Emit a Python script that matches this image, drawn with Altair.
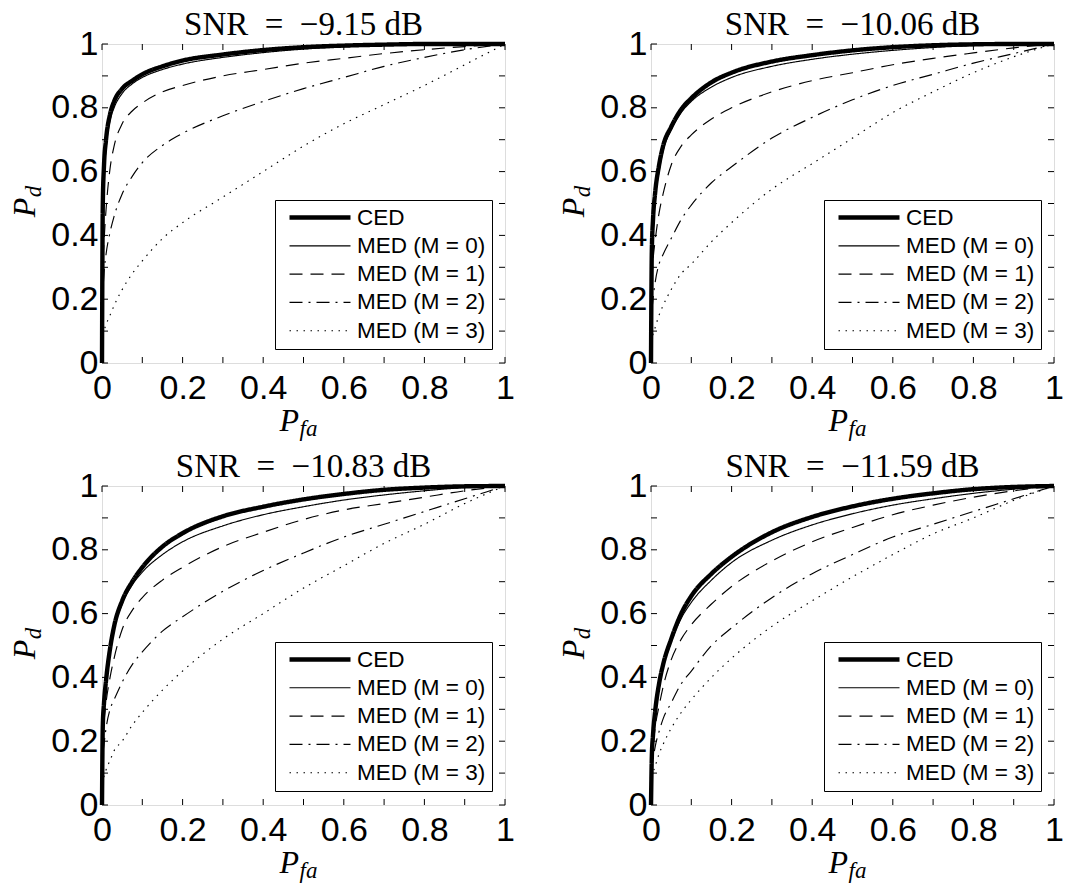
import altair as alt
import pandas as pd

# ---------------- data ----------------
PFA = [0, 0.002, 0.005, 0.01, 0.02, 0.03, 0.05, 0.075, 0.1, 0.15, 0.2,
       0.3, 0.4, 0.5, 0.6, 0.7, 0.8, 0.9, 1.0]

SERIES = ["CED", "MED (M = 0)", "MED (M = 1)", "MED (M = 2)", "MED (M = 3)"]
EN = "\u2002"
TITLES = ["SNR" + EN + "=" + EN + "\u22129.15 dB",
          "SNR" + EN + "=" + EN + "\u221210.06 dB",
          "SNR" + EN + "=" + EN + "\u221210.83 dB",
          "SNR" + EN + "=" + EN + "\u221211.59 dB"]

# SNR = -9.15 dB
A_CED = [0, 0.50, 0.62, 0.70, 0.78, 0.82, 0.86, 0.885, 0.905, 0.93, 0.948, 0.967, 0.981, 0.99, 0.995, 0.998, 1.0, 1.0, 1.0]
A_M0 = [0, 0.45, 0.58, 0.67, 0.76, 0.80, 0.845, 0.875, 0.895, 0.92, 0.937, 0.958, 0.973, 0.984, 0.991, 0.996, 0.999, 1.0, 1.0]
A_M1 = [0, 0.30, 0.38, 0.48, 0.61, 0.68, 0.75, 0.79, 0.815, 0.85, 0.87, 0.90, 0.92, 0.94, 0.955, 0.97, 0.982, 0.992, 1.0]
A_M2 = [0, 0.20, 0.28, 0.34, 0.41, 0.46, 0.53, 0.585, 0.628, 0.682, 0.72, 0.775, 0.82, 0.86, 0.895, 0.93, 0.958, 0.982, 1.0]
A_M3 = [0, 0.08, 0.10, 0.12, 0.15, 0.18, 0.23, 0.28, 0.32, 0.39, 0.44, 0.52, 0.60, 0.68, 0.75, 0.81, 0.87, 0.935, 1.0]

# SNR = -10.06 dB
B_CED = [0, 0.35, 0.45, 0.53, 0.62, 0.68, 0.74, 0.795, 0.83, 0.88, 0.91, 0.945, 0.965, 0.98, 0.99, 0.996, 0.999, 1.0, 1.0]
B_M0 = [0, 0.33, 0.43, 0.51, 0.60, 0.665, 0.73, 0.785, 0.82, 0.865, 0.895, 0.93, 0.952, 0.968, 0.98, 0.989, 0.995, 0.999, 1.0]
B_M1 = [0, 0.25, 0.32, 0.38, 0.47, 0.53, 0.62, 0.68, 0.715, 0.765, 0.80, 0.85, 0.885, 0.91, 0.935, 0.955, 0.972, 0.988, 1.0]
B_M2 = [0, 0.15, 0.20, 0.25, 0.31, 0.34, 0.39, 0.45, 0.495, 0.565, 0.615, 0.705, 0.77, 0.825, 0.87, 0.905, 0.94, 0.97, 1.0]
B_M3 = [0, 0.07, 0.09, 0.11, 0.15, 0.18, 0.23, 0.28, 0.31, 0.38, 0.44, 0.545, 0.625, 0.705, 0.785, 0.85, 0.91, 0.96, 1.0]

# SNR = -10.83 dB
C_CED = [0, 0.25, 0.32, 0.39, 0.49, 0.56, 0.64, 0.70, 0.745, 0.81, 0.852, 0.905, 0.935, 0.958, 0.975, 0.988, 0.995, 0.999, 1.0]
C_M0 = [0, 0.24, 0.31, 0.38, 0.48, 0.55, 0.63, 0.69, 0.73, 0.785, 0.825, 0.875, 0.91, 0.935, 0.956, 0.972, 0.985, 0.995, 1.0]
C_M1 = [0, 0.20, 0.26, 0.32, 0.40, 0.46, 0.55, 0.61, 0.65, 0.705, 0.745, 0.81, 0.855, 0.895, 0.925, 0.945, 0.965, 0.985, 1.0]
C_M2 = [0, 0.15, 0.19, 0.24, 0.30, 0.33, 0.385, 0.44, 0.48, 0.545, 0.59, 0.67, 0.735, 0.79, 0.84, 0.88, 0.92, 0.96, 1.0]
C_M3 = [0, 0.07, 0.09, 0.11, 0.14, 0.17, 0.20, 0.25, 0.29, 0.36, 0.42, 0.52, 0.60, 0.68, 0.75, 0.82, 0.88, 0.945, 1.0]

# SNR = -11.59 dB
D_CED = [0, 0.15, 0.22, 0.29, 0.38, 0.44, 0.52, 0.60, 0.655, 0.725, 0.778, 0.855, 0.903, 0.936, 0.96, 0.977, 0.99, 0.997, 1.0]
D_M0 = [0, 0.14, 0.21, 0.28, 0.37, 0.43, 0.51, 0.585, 0.635, 0.705, 0.76, 0.83, 0.878, 0.913, 0.94, 0.96, 0.977, 0.99, 1.0]
D_M1 = [0, 0.12, 0.18, 0.24, 0.31, 0.37, 0.455, 0.52, 0.565, 0.63, 0.685, 0.765, 0.825, 0.87, 0.91, 0.94, 0.965, 0.985, 1.0]
D_M2 = [0, 0.10, 0.14, 0.18, 0.23, 0.27, 0.32, 0.38, 0.42, 0.50, 0.555, 0.65, 0.725, 0.785, 0.84, 0.88, 0.92, 0.96, 1.0]
D_M3 = [0, 0.08, 0.10, 0.12, 0.16, 0.19, 0.24, 0.29, 0.33, 0.40, 0.46, 0.56, 0.64, 0.715, 0.785, 0.85, 0.90, 0.955, 1.0]

PANELS = [
    (TITLES[0], [A_CED, A_M0, A_M1, A_M2, A_M3]),
    (TITLES[1], [B_CED, B_M0, B_M1, B_M2, B_M3]),
    (TITLES[2], [C_CED, C_M0, C_M1, C_M2, C_M3]),
    (TITLES[3], [D_CED, D_M0, D_M1, D_M2, D_M3]),
]

MINOR_TICKS = [0, 0.1, 0.2, 0.3, 0.4, 0.5, 0.6, 0.7, 0.8, 0.9, 1.0]
LABEL_TICKS = [0, 0.2, 0.4, 0.6, 0.8, 1.0]

# ---------------- styling ----------------
W, H = 403, 319
TICK_LEN = 6
SANS = "Liberation Sans"
SERIF = "Liberation Serif"
DASHES = [[1, 0], [1, 0], [13, 8], [13, 6, 2, 6], [1.5, 5.5]]
WIDTHS = [4.4, 1.15, 1.15, 1.15, 1.15]


def make_panel(title, curves):
    rows = []
    for name, vals in zip(SERIES, curves):
        for i, (x, y) in enumerate(zip(PFA, vals)):
            rows.append({"series": name, "pfa": x, "pd": y, "idx": i})
    df = pd.DataFrame(rows)

    xs = alt.Scale(domain=[0, 1], nice=False, zero=False)
    ys = alt.Scale(domain=[0, 1], nice=False, zero=False)

    leg = alt.Legend(
        title=None, orient="none", legendX=173, legendY=156,
        strokeColor="black", fillColor="white", padding=6,
        symbolType="stroke", symbolSize=3721, symbolStrokeColor="black",
        symbolOffset=6, labelOffset=4, clipHeight=23,
        labelFont=SANS, labelFontSize=22.5, labelColor="black",
        rowPadding=5.3,
    )

    lines = alt.Chart(df).mark_line(
        interpolate="monotone", color="black", strokeCap="butt"
    ).encode(
        x=alt.X("pfa:Q", scale=xs, title=None,
                axis=alt.Axis(values=LABEL_TICKS, format="~g", ticks=False,
                              domain=False, grid=False, labelFont=SANS,
                              labelFontSize=34, labelColor="black",
                              labelPadding=8, labelFlush=False)),
        y=alt.Y("pd:Q", scale=ys, title=None,
                axis=alt.Axis(values=LABEL_TICKS, format="~g", ticks=False,
                              domain=False, grid=False, labelFont=SANS,
                              labelFontSize=34, labelColor="black",
                              labelPadding=4, labelFlush=False)),
        detail="series:N",
        order="idx:Q",
        strokeDash=alt.StrokeDash("series:N",
                                  scale=alt.Scale(domain=SERIES, range=DASHES),
                                  legend=leg),
        strokeWidth=alt.StrokeWidth("series:N",
                                    scale=alt.Scale(type="ordinal", domain=SERIES, range=WIDTHS),
                                    legend=leg),
    )

    tdf = pd.DataFrame({"t": MINOR_TICKS})
    base = alt.Chart(tdf).mark_rule(color="black", strokeWidth=1)
    t_bottom = base.encode(x=alt.X("t:Q", scale=xs, title=None),
                           y=alt.value(H), y2=alt.value(H - TICK_LEN))
    t_top = base.encode(x=alt.X("t:Q", scale=xs, title=None),
                        y=alt.value(0), y2=alt.value(TICK_LEN))
    t_left = base.encode(y=alt.Y("t:Q", scale=ys, title=None),
                         x=alt.value(0), x2=alt.value(TICK_LEN))
    t_right = base.encode(y=alt.Y("t:Q", scale=ys, title=None),
                          x=alt.value(W), x2=alt.value(W - TICK_LEN))

    one = pd.DataFrame({"k": [0]})
    ttl = alt.Chart(one).mark_text(
        text=title, font=SERIF, fontWeight="normal", fontSize=33,
        align="center", baseline="alphabetic", color="black"
    ).encode(x=alt.value(W / 2), y=alt.value(-9))
    xt_main = alt.Chart(one).mark_text(
        text="P", font=SERIF, fontStyle="italic", fontWeight="normal", fontSize=32,
        align="left", baseline="alphabetic", color="black"
    ).encode(x=alt.value(W / 2 - 24), y=alt.value(H + 68))
    xt_sub = alt.Chart(one).mark_text(
        text="fa", font=SERIF, fontStyle="italic", fontWeight="normal", fontSize=23,
        align="left", baseline="alphabetic", color="black"
    ).encode(x=alt.value(W / 2 - 4), y=alt.value(H + 73))
    yt_main = alt.Chart(one).mark_text(
        text="P", font=SERIF, fontStyle="italic", fontWeight="normal", fontSize=32, angle=270,
        align="center", baseline="alphabetic", color="black"
    ).encode(x=alt.value(-67), y=alt.value(H / 2 + 4))
    yt_sub = alt.Chart(one).mark_text(
        text="d", font=SERIF, fontStyle="italic", fontWeight="normal", fontSize=23, angle=270,
        align="center", baseline="alphabetic", color="black"
    ).encode(x=alt.value(-61), y=alt.value(H / 2 - 12))

    return alt.layer(
        lines, t_bottom, t_top, t_left, t_right,
        ttl, xt_main, xt_sub, yt_main, yt_sub
    ).properties(width=W, height=H)


panels = [make_panel(t, c) for t, c in PANELS]

chart = alt.concat(
    *panels, columns=2, spacing={"row": 8, "column": 42}
).resolve_scale(
    strokeDash="independent", strokeWidth="independent"
).resolve_legend(
    strokeDash="independent", strokeWidth="independent"
).properties(
    padding={"left": 0, "top": 0, "right": 0, "bottom": 0}
).configure_view(
    stroke="black", strokeWidth=1.2
).configure(background="white")

chart.save("out.html", embed_options={"renderer": "svg", "actions": False})
